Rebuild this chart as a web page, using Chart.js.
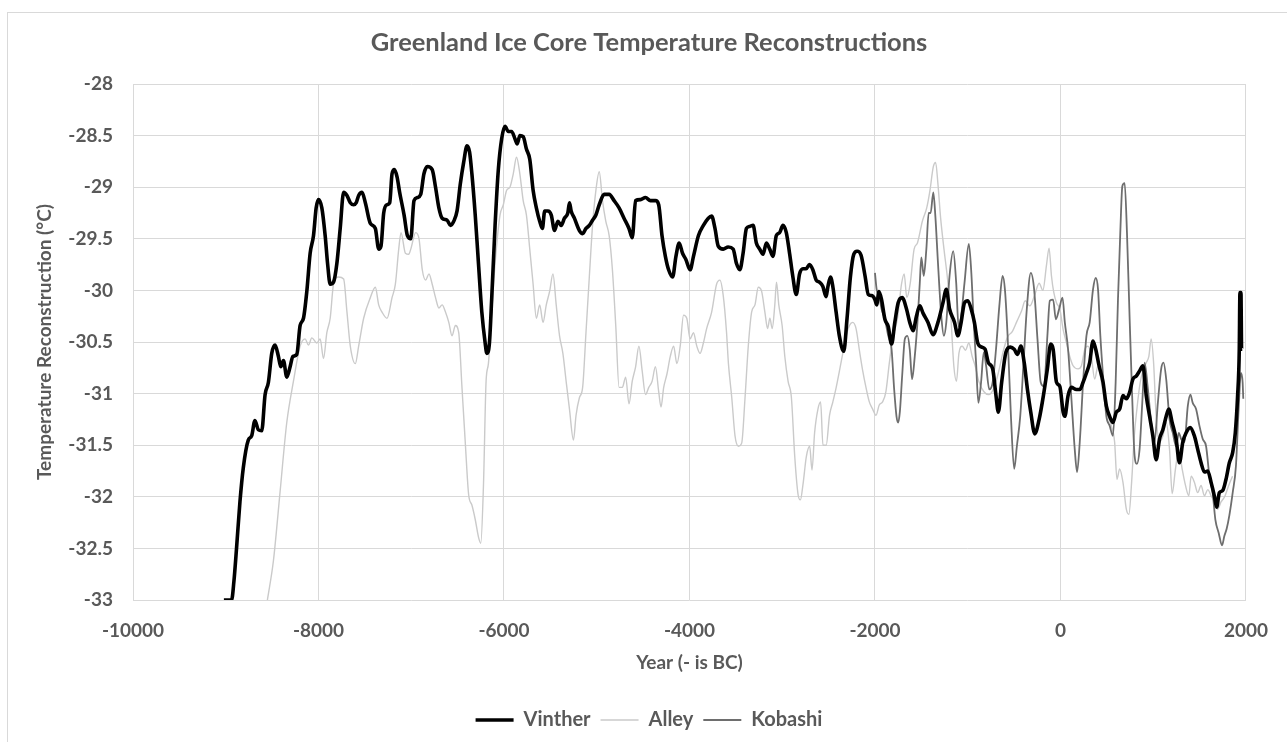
<!DOCTYPE html>
<html>
<head>
<meta charset="utf-8">
<script src="https://cdn.jsdelivr.net/npm/chart.js@4.4.1/dist/chart.umd.min.js"></script>
<style>
html,body{margin:0;padding:0;background:#fff;}
#wrap{width:1287px;height:742px;}
</style>
</head>
<body>
<div id="wrap"><canvas id="c" width="1287" height="742"></canvas></div>
<script>
const chartTitle = "Greenland Ice Core Temperature Reconstructions";
const xAxisTitle = "Year (- is BC)";
const yAxisTitle = "Temperature Reconstruction (°C)";
const seriesNames = ["Vinther", "Alley", "Kobashi"];

const vintherYears = [-9020,-8937,-8912,-8883,-8847,-8811,-8757,-8721,-8685,-8649,-8612,-8576,-8540,-8504,-8468,-8432,-8407,-8378,-8342,-8306,-8277,-8234,-8198,-8162,-8126,-8090,-8054,-8025,-8000,-7964,-7928,-7902,-7874,-7838,-7802,-7766,-7729,-7693,-7657,-7621,-7593,-7567,-7531,-7495,-7441,-7387,-7351,-7326,-7297,-7261,-7232,-7207,-7182,-7153,-7125,-7077,-7041,-7005,-6970,-6934,-6898,-6863,-6827,-6774,-6738,-6702,-6667,-6613,-6577,-6542,-6506,-6471,-6435,-6399,-6371,-6346,-6310,-6275,-6239,-6203,-6185,-6157,-6132,-6096,-6061,-6025,-5989,-5954,-5918,-5882,-5857,-5829,-5793,-5758,-5722,-5686,-5651,-5615,-5586,-5561,-5526,-5490,-5455,-5419,-5383,-5348,-5312,-5294,-5276,-5241,-5187,-5152,-5116,-5080,-5045,-5009,-4973,-4920,-4866,-4813,-4759,-4706,-4652,-4617,-4581,-4528,-4474,-4421,-4367,-4332,-4296,-4260,-4225,-4182,-4146,-4111,-4075,-4039,-3993,-3957,-3904,-3850,-3797,-3761,-3725,-3690,-3636,-3583,-3529,-3493,-3457,-3422,-3386,-3350,-3314,-3279,-3243,-3207,-3171,-3135,-3100,-3064,-3028,-2992,-2956,-2921,-2885,-2849,-2813,-2777,-2742,-2706,-2670,-2634,-2599,-2563,-2527,-2509,-2480,-2455,-2419,-2384,-2337,-2301,-2265,-2229,-2193,-2150,-2107,-2072,-2036,-2000,-1982,-1957,-1929,-1893,-1857,-1821,-1786,-1750,-1707,-1660,-1625,-1589,-1553,-1517,-1482,-1428,-1374,-1321,-1267,-1231,-1196,-1142,-1106,-1071,-1035,-999,-963,-928,-892,-849,-813,-777,-731,-695,-670,-634,-588,-541,-499,-463,-427,-391,-356,-320,-277,-230,-184,-141,-105,-79,-43,-7,29,47,82,118,172,208,244,280,315,351,380,416,459,495,530,566,602,638,674,710,745,781,817,853,889,925,961,996,1032,1068,1104,1140,1168,1204,1247,1283,1319,1355,1398,1444,1480,1516,1552,1588,1624,1659,1684,1713,1749,1785,1821,1857,1885,1910,1928,1935,1946,1953,1960];
const vintherTemps = [-33.00,-33.00,-32.82,-32.49,-32.05,-31.72,-31.45,-31.41,-31.26,-31.35,-31.36,-31.01,-30.89,-30.61,-30.53,-30.64,-30.74,-30.68,-30.84,-30.74,-30.64,-30.62,-30.34,-30.27,-30.01,-29.64,-29.47,-29.20,-29.12,-29.20,-29.47,-29.74,-29.94,-29.92,-29.74,-29.40,-29.05,-29.08,-29.15,-29.17,-29.15,-29.08,-29.05,-29.15,-29.35,-29.40,-29.60,-29.57,-29.25,-29.17,-29.15,-28.87,-28.83,-28.90,-29.05,-29.27,-29.47,-29.50,-29.13,-29.10,-29.07,-28.87,-28.80,-28.83,-29.00,-29.20,-29.30,-29.32,-29.37,-29.33,-29.23,-28.97,-28.76,-28.60,-28.66,-28.87,-29.27,-29.74,-30.21,-30.51,-30.61,-30.51,-30.07,-29.37,-28.83,-28.53,-28.41,-28.46,-28.46,-28.53,-28.58,-28.50,-28.51,-28.63,-28.73,-29.03,-29.20,-29.33,-29.40,-29.23,-29.23,-29.27,-29.42,-29.33,-29.37,-29.30,-29.25,-29.15,-29.23,-29.30,-29.42,-29.45,-29.40,-29.37,-29.32,-29.27,-29.17,-29.07,-29.07,-29.13,-29.20,-29.30,-29.40,-29.49,-29.13,-29.12,-29.10,-29.13,-29.13,-29.17,-29.47,-29.67,-29.80,-29.87,-29.67,-29.54,-29.64,-29.70,-29.80,-29.67,-29.47,-29.37,-29.30,-29.28,-29.40,-29.57,-29.60,-29.58,-29.60,-29.74,-29.80,-29.64,-29.40,-29.38,-29.37,-29.54,-29.60,-29.65,-29.54,-29.60,-29.67,-29.47,-29.44,-29.37,-29.44,-29.64,-29.87,-30.04,-29.84,-29.79,-29.79,-29.75,-29.80,-29.90,-29.92,-29.96,-30.06,-29.97,-29.87,-29.96,-30.21,-30.44,-30.59,-30.27,-29.87,-29.65,-29.62,-29.66,-29.86,-30.04,-30.05,-30.09,-30.14,-30.01,-30.09,-30.28,-30.35,-30.52,-30.31,-30.12,-30.07,-30.18,-30.31,-30.39,-30.25,-30.15,-30.22,-30.31,-30.43,-30.31,-30.12,-29.99,-30.18,-30.31,-30.44,-30.31,-30.12,-30.10,-30.18,-30.31,-30.51,-30.55,-30.57,-30.70,-30.76,-31.02,-31.18,-30.89,-30.60,-30.55,-30.57,-30.62,-30.54,-30.70,-30.96,-31.18,-31.39,-31.25,-31.02,-30.76,-30.52,-30.57,-30.89,-30.93,-31.18,-31.22,-31.02,-30.94,-30.96,-30.96,-30.89,-30.80,-30.70,-30.49,-30.57,-30.73,-30.89,-31.12,-31.22,-31.28,-31.18,-31.15,-31.02,-31.05,-30.99,-30.86,-30.83,-30.78,-30.73,-31.02,-31.22,-31.41,-31.64,-31.44,-31.35,-31.22,-31.15,-31.28,-31.44,-31.67,-31.47,-31.38,-31.33,-31.41,-31.54,-31.67,-31.76,-31.75,-31.86,-31.99,-32.10,-31.96,-31.94,-31.83,-31.67,-31.57,-31.38,-31.02,-30.57,-30.02,-30.02,-30.57,-30.57];

const alleyYears = [-8551,-8486,-8414,-8342,-8270,-8198,-8144,-8108,-8072,-8018,-7982,-7946,-7910,-7874,-7838,-7784,-7729,-7693,-7657,-7603,-7567,-7513,-7441,-7387,-7351,-7315,-7261,-7207,-7171,-7135,-7110,-7063,-7027,-7005,-6952,-6916,-6881,-6845,-6809,-6774,-6738,-6702,-6667,-6631,-6595,-6560,-6524,-6488,-6453,-6417,-6381,-6346,-6310,-6275,-6250,-6221,-6193,-6168,-6132,-6096,-6043,-6007,-5971,-5936,-5900,-5865,-5829,-5793,-5758,-5722,-5686,-5651,-5615,-5579,-5544,-5508,-5472,-5437,-5401,-5365,-5330,-5294,-5251,-5223,-5187,-5152,-5116,-5080,-5045,-5009,-4973,-4938,-4902,-4866,-4831,-4795,-4759,-4724,-4688,-4652,-4617,-4581,-4545,-4510,-4474,-4439,-4403,-4367,-4332,-4307,-4278,-4243,-4207,-4171,-4136,-4100,-4064,-4029,-3993,-3957,-3921,-3886,-3850,-3815,-3761,-3708,-3672,-3636,-3601,-3580,-3544,-3509,-3473,-3437,-3401,-3366,-3330,-3294,-3258,-3222,-3187,-3158,-3133,-3108,-3080,-3062,-3037,-3001,-2972,-2937,-2901,-2865,-2829,-2804,-2776,-2740,-2704,-2679,-2651,-2615,-2586,-2561,-2526,-2490,-2454,-2418,-2383,-2347,-2311,-2275,-2240,-2204,-2168,-2132,-2097,-2061,-2025,-1989,-1954,-1918,-1882,-1846,-1810,-1757,-1714,-1685,-1657,-1621,-1578,-1542,-1489,-1442,-1407,-1371,-1346,-1321,-1292,-1256,-1220,-1185,-1149,-1121,-1095,-1060,-1024,-988,-952,-917,-881,-827,-774,-720,-670,-620,-570,-520,-470,-420,-380,-330,-280,-230,-190,-150,-123,-97,-72,-43,-7,29,65,100,136,190,226,262,297,333,369,405,441,477,513,548,584,609,638,674,710,738,767,796,824,860,896,925,953,978,1004,1032,1068,1104,1140,1176,1204,1240,1276,1312,1348,1384,1409,1444,1480,1516,1552,1588,1624,1659,1695,1731,1770,1810,1855];
const alleyTemps = [-33.00,-32.62,-31.95,-31.28,-30.88,-30.54,-30.47,-30.53,-30.46,-30.51,-30.47,-30.66,-30.41,-30.27,-29.94,-29.87,-29.89,-30.21,-30.54,-30.71,-30.54,-30.27,-30.07,-29.97,-30.14,-30.21,-30.27,-30.07,-29.94,-29.60,-29.44,-29.64,-29.65,-29.60,-29.44,-29.50,-29.80,-29.90,-29.84,-29.94,-30.07,-30.17,-30.14,-30.21,-30.31,-30.44,-30.34,-30.41,-30.94,-31.48,-31.98,-32.08,-32.22,-32.39,-32.45,-31.88,-30.88,-30.71,-30.21,-29.74,-29.27,-29.17,-29.03,-29.00,-28.87,-28.71,-28.87,-29.13,-29.27,-29.60,-29.94,-30.27,-30.14,-30.31,-30.14,-30.01,-29.84,-30.14,-30.44,-30.61,-30.88,-31.15,-31.45,-31.21,-31.04,-30.94,-30.41,-29.87,-29.37,-29.03,-28.85,-29.13,-29.33,-29.47,-29.80,-30.34,-30.94,-30.94,-30.84,-31.10,-30.88,-30.74,-30.54,-30.78,-31.01,-30.94,-30.88,-30.74,-30.98,-31.13,-30.94,-30.81,-30.64,-30.54,-30.71,-30.54,-30.24,-30.27,-30.47,-30.41,-30.54,-30.61,-30.51,-30.37,-30.21,-29.94,-29.90,-30.05,-30.40,-30.71,-31.04,-31.41,-31.51,-31.48,-31.04,-30.54,-30.21,-30.14,-29.97,-30.01,-30.21,-30.37,-30.27,-30.37,-30.14,-29.92,-30.14,-30.34,-30.64,-30.88,-31.04,-31.61,-31.98,-32.03,-31.88,-31.61,-31.51,-31.74,-31.38,-31.15,-31.08,-31.50,-31.50,-31.21,-31.08,-30.94,-30.78,-30.61,-30.44,-30.34,-30.31,-30.37,-30.58,-30.78,-30.94,-31.08,-31.15,-31.21,-31.11,-31.08,-30.98,-30.71,-30.47,-30.27,-29.94,-29.84,-30.07,-29.94,-29.60,-29.54,-29.33,-29.20,-29.03,-28.80,-28.76,-28.97,-29.30,-29.60,-29.87,-30.21,-30.74,-30.88,-30.61,-30.54,-30.58,-30.51,-30.64,-30.74,-30.88,-30.98,-31.01,-30.95,-30.80,-30.60,-30.45,-30.40,-30.30,-30.20,-30.10,-30.15,-30.05,-29.93,-30.00,-29.75,-29.59,-29.86,-30.02,-30.12,-30.18,-30.38,-30.51,-30.64,-30.73,-30.76,-30.73,-30.57,-30.54,-30.64,-30.86,-30.73,-30.89,-31.09,-31.22,-31.31,-31.47,-31.83,-31.73,-31.86,-32.12,-32.17,-31.86,-31.41,-31.15,-30.89,-30.76,-30.70,-30.64,-30.47,-30.70,-31.22,-31.47,-31.41,-31.28,-31.54,-31.97,-31.73,-31.54,-31.73,-31.89,-31.99,-31.80,-31.86,-31.96,-31.89,-31.99,-31.93,-31.99,-32.05,-32.12,-32.05,-32.00,-31.90,-31.80];

const kobashiYears = [-2000,-1982,-1957,-1929,-1893,-1857,-1821,-1793,-1768,-1750,-1732,-1707,-1678,-1650,-1625,-1600,-1571,-1542,-1517,-1500,-1474,-1446,-1421,-1400,-1371,-1349,-1321,-1285,-1257,-1231,-1196,-1156,-1124,-1099,-1071,-1035,-988,-963,-935,-910,-885,-856,-827,-802,-767,-731,-695,-659,-624,-599,-570,-534,-499,-470,-434,-398,-363,-320,-284,-248,-213,-177,-141,-115,-79,-50,-14,22,47,82,118,154,179,208,244,280,315,351,380,405,430,459,495,530,566,595,620,645,667,692,717,745,774,799,824,853,882,907,943,978,1014,1050,1086,1111,1140,1176,1211,1247,1276,1301,1337,1373,1401,1426,1462,1498,1534,1570,1606,1641,1670,1706,1742,1767,1792,1821,1857,1892,1921,1946,1964,1971];
const kobashiTemps = [-29.83,-29.99,-30.05,-30.18,-30.28,-30.44,-30.57,-30.96,-31.22,-31.28,-31.18,-30.83,-30.47,-30.44,-30.57,-30.86,-30.64,-30.31,-29.93,-29.68,-29.86,-29.60,-29.25,-29.25,-29.05,-29.28,-29.73,-30.25,-30.44,-30.31,-29.86,-29.62,-29.93,-30.35,-30.25,-29.93,-29.55,-29.80,-30.31,-30.70,-31.09,-30.89,-30.60,-30.73,-30.96,-30.89,-30.57,-30.15,-29.86,-29.99,-30.44,-31.22,-31.73,-31.51,-31.22,-30.70,-30.18,-29.83,-29.99,-30.47,-30.89,-30.93,-30.44,-30.10,-30.09,-30.28,-30.18,-30.07,-30.31,-30.57,-31.05,-31.54,-31.76,-31.47,-30.89,-30.44,-30.31,-29.99,-29.88,-29.99,-30.44,-30.83,-31.22,-31.31,-31.41,-30.89,-30.09,-29.44,-28.99,-28.96,-29.44,-30.25,-31.05,-31.60,-31.68,-31.54,-31.09,-30.70,-30.96,-31.28,-31.47,-31.09,-30.76,-30.70,-30.86,-31.25,-31.38,-31.51,-31.38,-31.44,-31.47,-31.12,-31.01,-31.09,-31.15,-31.31,-31.44,-31.51,-31.80,-31.96,-32.22,-32.35,-32.47,-32.38,-32.31,-32.18,-31.96,-31.70,-31.15,-30.80,-30.89,-31.05];

const xTickValues = [-10000, -8000, -6000, -4000, -2000, 0, 2000];
const yTickValues = [-33, -32.5, -32, -31.5, -31, -30.5, -30, -29.5, -29, -28.5, -28];

function pts(xs, ys) { return xs.map((x, i) => ({ x: x, y: ys[i] })); }

const textColor = '#595959';
const gridColor = '#d9d9d9';
const fontFam = 'Lato, "Open Sans", sans-serif';

const framePlugin = {
  id: 'frame',
  beforeDraw(chart) {
    const ctx = chart.ctx;
    ctx.save();
    ctx.fillStyle = '#ffffff';
    ctx.fillRect(0, 0, chart.width, chart.height);
    ctx.strokeStyle = '#d9d9d9';
    ctx.lineWidth = 1;
    ctx.strokeRect(7.5, 12.5, chart.width + 20, chart.height + 20);
    ctx.restore();
  }
};

new Chart(document.getElementById('c'), {
  type: 'line',
  data: {
    datasets: [
      { label: seriesNames[0], data: pts(vintherYears, vintherTemps), borderColor: '#000000', backgroundColor: '#000000', borderWidth: 3.6, pointRadius: 0, cubicInterpolationMode: 'monotone', order: 0 },
      { label: seriesNames[1], data: pts(alleyYears, alleyTemps), borderColor: '#cacaca', backgroundColor: '#cacaca', borderWidth: 1.4, pointRadius: 0, cubicInterpolationMode: 'monotone', order: 2 },
      { label: seriesNames[2], data: pts(kobashiYears, kobashiTemps), borderColor: '#6e6e6e', backgroundColor: '#6e6e6e', borderWidth: 1.8, pointRadius: 0, cubicInterpolationMode: 'monotone', order: 1 }
    ]
  },
  options: {
    responsive: false,
    animation: false,
    events: [],
    layout: { padding: { left: 15, right: 4, top: 12, bottom: 2 } },
    plugins: {
      title: {
        display: true,
        text: chartTitle,
        color: textColor,
        font: { family: fontFam, size: 25.5, weight: 'bold' },
        padding: { top: 15.7, bottom: 25.7 }
      },
      legend: {
        position: 'bottom',
        labels: {
          color: textColor,
          font: { family: fontFam, size: 20, weight: 'bold' },
          usePointStyle: true,
          pointStyle: 'line',
          pointStyleWidth: 38,
          padding: 10,
          sort: (a, b) => a.datasetIndex - b.datasetIndex
        }
      },
      tooltip: { enabled: false }
    },
    scales: {
      x: {
        type: 'linear',
        min: -10000,
        max: 2000,
        afterBuildTicks(axis) { axis.ticks = xTickValues.map(v => ({ value: v })); },
        afterFit(axis) { axis.height = 100; },
        grid: { color: gridColor, drawTicks: false },
        border: { display: false },
        ticks: {
          color: textColor,
          padding: 19,
          maxRotation: 0,
          font: { family: fontFam, size: 19, weight: 'bold' },
          callback: v => String(v)
        },
        title: {
          display: true,
          text: xAxisTitle,
          color: textColor,
          font: { family: fontFam, size: 19, weight: 'bold' },
          padding: { top: 0, bottom: 25.6 }
        }
      },
      y: {
        type: 'linear',
        position: 'left',
        min: -33,
        max: -28,
        afterBuildTicks(axis) { axis.ticks = yTickValues.map(v => ({ value: v })); },
        afterFit(axis) { axis.width = 118; },
        grid: { color: gridColor, drawTicks: false },
        border: { display: false },
        ticks: {
          color: textColor,
          padding: 20,
          font: { family: fontFam, size: 19, weight: 'bold' },
          callback: v => String(v)
        },
        title: {
          display: true,
          text: yAxisTitle,
          color: textColor,
          font: { family: fontFam, size: 19, weight: 'bold' },
          padding: { top: 18.6, bottom: 0 }
        }
      },
      yRight: {
        type: 'linear',
        position: 'right',
        display: true,
        afterFit(axis) { axis.width = 33; },
        grid: { display: false },
        border: { display: false },
        ticks: { display: false }
      }
    }
  },
  plugins: [framePlugin]
});
</script>
</body>
</html>
